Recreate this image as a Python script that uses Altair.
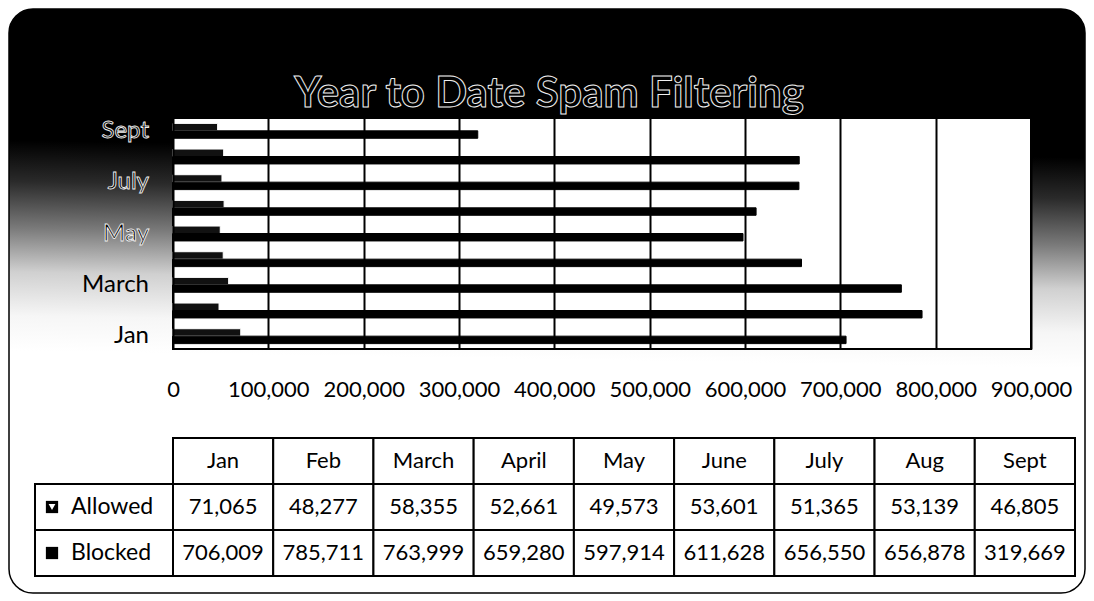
import altair as alt
import pandas as pd

# ---------------- data ----------------
MONTHS = ["Jan", "Feb", "March", "April", "May", "June", "July", "Aug", "Sept"]
ALLOWED = [71065, 48277, 58355, 52661, 49573, 53601, 51365, 53139, 46805]
BLOCKED = [706009, 785711, 763999, 659280, 597914, 611628, 656550, 656878, 319669]
SERIES = ["Allowed", "Blocked"]
X_TICKS = [0, 100000, 200000, 300000, 400000, 500000, 600000, 700000, 800000, 900000]
Y_LABELS = ["Jan", "March", "May", "July", "Sept"]
TITLE = "Year to Date Spam Filtering"
ROWS = ["Month", "Allowed", "Blocked"]

FONT = "Lato"
PLOT_W, PLOT_H = 858, 231
TABLE_W, TABLE_H = 902, 138

long_rows = []
for m, a, b in zip(MONTHS, ALLOWED, BLOCKED):
    long_rows.append({"month": m, "series": "Allowed", "value": a})
    long_rows.append({"month": m, "series": "Blocked", "value": b})
long_df = pd.DataFrame(long_rows)

one = pd.DataFrame({"k": [0]})

y_scale = alt.Scale(domain=MONTHS[::-1], paddingInner=0.42, paddingOuter=0.21)
x_scale = alt.Scale(domain=[0, 900000], nice=False, zero=True)

gradient = alt.LinearGradient(
    gradient="linear",
    x1=0.515, y1=0, x2=0.485, y2=1,
    stops=[
        alt.GradientStop(offset=0, color="#000000"),
        alt.GradientStop(offset=0.24, color="#000000"),
        alt.GradientStop(offset=0.31, color="#2a2a2a"),
        alt.GradientStop(offset=0.39, color="#7a7a7a"),
        alt.GradientStop(offset=0.465, color="#d0d0d0"),
        alt.GradientStop(offset=0.54, color="#f6f6f6"),
        alt.GradientStop(offset=0.6, color="#ffffff"),
        alt.GradientStop(offset=1, color="#ffffff"),
    ],
)

# --------------- top: bar chart ---------------
background = alt.Chart(one).mark_rect(
    fill=gradient, stroke="black", strokeWidth=1.5, cornerRadius=24
).encode(
    x=alt.value(-164), x2=alt.value(912), y=alt.value(-109), y2=alt.value(475)
)

plot_bg = alt.Chart(one).mark_rect(fill="white", stroke="black", strokeWidth=2).encode(
    x=alt.datum(0, scale=x_scale),
    x2=alt.datum(900000),
    y=alt.value(0),
    y2=alt.value(PLOT_H),
)

title = alt.Chart(one).mark_text(
    text=TITLE, font=FONT, fontSize=42, fontWeight="bold",
    fill="black", stroke="#f0f0f0", strokeWidth=1.0,
    align="center", baseline="alphabetic",
).encode(x=alt.value(376), y=alt.value(-11))

bars = alt.Chart(long_df).mark_bar(strokeWidth=1).encode(
    x=alt.X(
        "value:Q",
        scale=x_scale,
        axis=alt.Axis(
            values=X_TICKS, format=",d", grid=True, gridColor="black", gridWidth=2,
            domain=False, ticks=False, labelFlush=False, labelOverlap=False,
            labelFont=FONT, labelFontSize=22, labelColor="black", labelPadding=30,
            title=None, zindex=1,
        ),
    ),
    y=alt.Y("month:N", scale=y_scale, axis=None),
    yOffset=alt.YOffset("series:N", scale=alt.Scale(domain=SERIES, paddingInner=0, paddingOuter=0)),
    fill=alt.Fill("series:N", scale=alt.Scale(domain=SERIES, range=["#111111", "#000000"]), legend=None),
    stroke=alt.Stroke("series:N", scale=alt.Scale(domain=SERIES, range=["#ffffff", "#000000"]), legend=None),
)

ylabels = alt.Chart(pd.DataFrame({"month": Y_LABELS})).mark_text(
    align="right", baseline="middle", font=FONT, fontSize=24, fill="black", strokeWidth=0.9
).encode(
    y=alt.Y("month:N", scale=y_scale, axis=None),
    x=alt.value(-24),
    text="month:N",
    stroke=alt.condition(
        alt.FieldOneOfPredicate(field="month", oneOf=["May", "July", "Sept"]),
        alt.value("#f0f0f0"), alt.value("transparent"),
    ),
)

top = alt.layer(background, plot_bg, bars, ylabels, title).properties(width=PLOT_W, height=PLOT_H)

# --------------- bottom: data table ---------------
tbl_rows = []
for m, a, b in zip(MONTHS, ALLOWED, BLOCKED):
    tbl_rows.append({"month": m, "row": "Month", "label": m})
    tbl_rows.append({"month": m, "row": "Allowed", "label": f"{a:,}"})
    tbl_rows.append({"month": m, "row": "Blocked", "label": f"{b:,}"})
tbl_df = pd.DataFrame(tbl_rows)

tx = alt.X("month:N", scale=alt.Scale(domain=MONTHS, paddingInner=0, paddingOuter=0), axis=None)
ty = alt.Y("row:N", scale=alt.Scale(domain=ROWS, paddingInner=0, paddingOuter=0), axis=None)

cells = alt.Chart(tbl_df).mark_rect(fill="white", stroke="black", strokeWidth=2).encode(x=tx, y=ty)
cell_text = alt.Chart(tbl_df).mark_text(font=FONT, fontSize=22, color="black", baseline="middle").encode(
    x=tx, y=ty, text="label:N"
)

lab_df = pd.DataFrame({"row": SERIES})
lab_cells = alt.Chart(lab_df).mark_rect(fill="white", stroke="black", strokeWidth=2).encode(
    x=alt.value(-138), x2=alt.value(0), y=ty
)
lab_text = alt.Chart(lab_df).mark_text(
    font=FONT, fontSize=23, color="black", align="left", baseline="middle"
).encode(x=alt.value(-102), y=ty, text="row:N")
keys = alt.Chart(lab_df).mark_point(shape="square", filled=True, size=150, color="black", opacity=1).encode(
    x=alt.value(-121), y=ty
)
allowed_key = alt.Chart(pd.DataFrame({"row": ["Allowed"]})).mark_point(
    shape="triangle-down", filled=True, size=45, color="white", opacity=1
).encode(x=alt.value(-121), y=ty)

table = alt.layer(cells, cell_text, lab_cells, lab_text, keys, allowed_key).properties(
    width=TABLE_W, height=TABLE_H
)

chart = alt.vconcat(top, table, spacing=89, bounds="flush").properties(
    padding=0
).configure_view(strokeWidth=0)

chart.save("out.html", embed_options={"renderer": "svg", "actions": False})
